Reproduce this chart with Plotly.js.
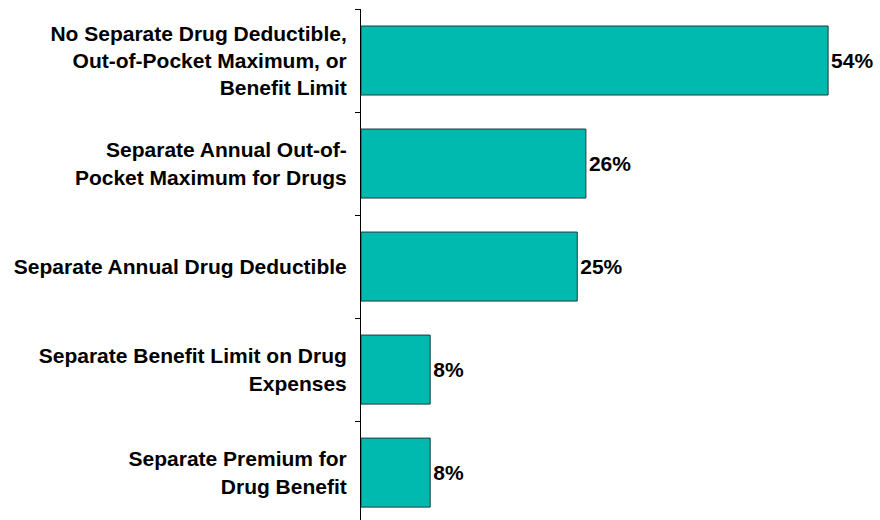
<!DOCTYPE html>
<html>
<head>
<meta charset="utf-8">
<script src="https://cdn.plot.ly/plotly-3.0.1.min.js"></script>
<style>html,body{margin:0;padding:0;background:#fff;overflow:hidden}#chart{width:880px;height:520px}</style>
</head>
<body>
<div id="chart"></div>
<script>
var categories = [
  "No Separate Drug Deductible,<br>Out-of-Pocket Maximum, or<br>Benefit Limit",
  "Separate Annual Out-of-<br>Pocket Maximum for Drugs",
  "Separate Annual Drug Deductible",
  "Separate Benefit Limit on Drug<br>Expenses",
  "Separate Premium for<br>Drug Benefit"
];
var values = [54, 26, 25, 8, 8];
var valueLabels = values.map(function(v){ return v + "%"; });

var trace = {
  type: "bar",
  orientation: "h",
  y: categories,
  x: values,
  text: valueLabels,
  textposition: "outside",
  cliponaxis: false,
  textfont: {family: "Liberation Sans, Arial, sans-serif", size: 21, color: "#000", weight: "bold"},
  marker: {color: "#00B9AF", line: {color: "#1f3d3b", width: 1}},
  width: 0.67,
  hoverinfo: "none"
};

var layout = {
  width: 880,
  height: 520,
  margin: {l: 361, r: 0, t: 9, b: 0},
  paper_bgcolor: "#fff",
  plot_bgcolor: "#fff",
  showlegend: false,
  font: {family: "Liberation Sans, Arial, sans-serif", color: "#000"},
  xaxis: {
    range: [0, 60],
    visible: false,
    fixedrange: true
  },
  yaxis: {
    type: "category",
    range: [4.46, -0.5],
    showline: true,
    linecolor: "#000",
    linewidth: 1,
    ticks: "outside",
    tickson: "boundaries",
    ticklen: 5,
    tickcolor: "#000",
    showgrid: false,
    zeroline: false,
    ticklabelstandoff: 9,
    tickfont: {family: "Liberation Sans, Arial, sans-serif", size: 21, color: "#000", weight: "bold"},
    fixedrange: true
  }
};

Plotly.newPlot("chart", [trace], layout, {displayModeBar: false, staticPlot: true});
</script>
</body>
</html>
